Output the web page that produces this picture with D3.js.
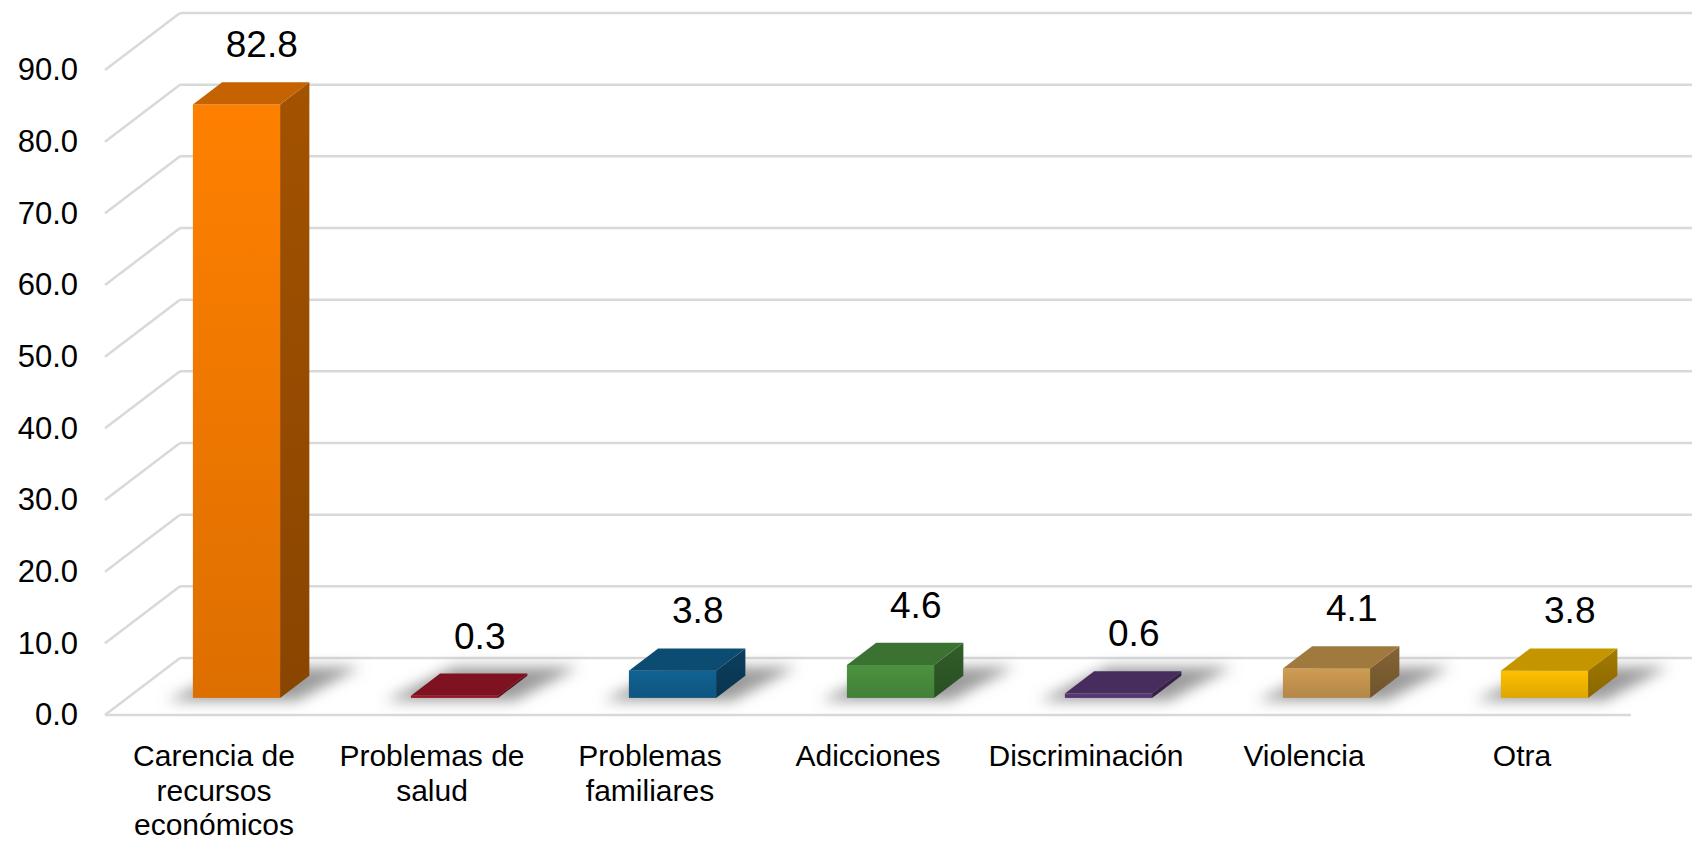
<!DOCTYPE html>
<html>
<head>
<meta charset="utf-8">
<script src="https://cdn.jsdelivr.net/npm/d3@7"></script>
<style>
  html, body { margin: 0; padding: 0; background: #fff; }
  svg { display: block; }
  text { font-family: "Liberation Sans", Arial, sans-serif; fill: #000; }
</style>
</head>
<body>
<svg id="chart" width="1692" height="841"></svg>
<script>
// ---- data ----
const categories = ["Carencia de recursos económicos", "Problemas de salud", "Problemas familiares",
  "Adicciones", "Discriminación", "Violencia", "Otra"];
const categoryLines = [["Carencia de", "recursos", "económicos"], ["Problemas de", "salud"],
  ["Problemas", "familiares"], ["Adicciones"], ["Discriminación"], ["Violencia"], ["Otra"]];
const values = [82.8, 0.3, 3.8, 4.6, 0.6, 4.1, 3.8];
const barColors = ["#FF8000", "#A3172B", "#116293", "#4C9340", "#5B3A78", "#CF9C52", "#FFC000"];
const yTicks = [0, 10, 20, 30, 40, 50, 60, 70, 80, 90];

// ---- layout ----
const W = 1692, H = 841;
const plotLeft = 105, plotRight = 1631;
const depthDX = 75, depthDY = 57;     // full floor depth projection
const zFront = 0.3, zBack = 0.69;      // bar depth placement

const svg = d3.select("#chart");

const x = d3.scaleBand().domain(categories).range([plotLeft, plotRight])
  .paddingInner(0.6).paddingOuter(0.3);
const xOuter = d3.scaleBand().domain(categories).range([plotLeft, plotRight]);
const y = d3.scaleLinear().domain([0, 90]).range([715, 70]);

function P(px, v, z) { return [px + z * depthDX, y(v) - z * depthDY]; }

const defs = svg.append("defs");
defs.append("filter").attr("id", "blur").attr("x", "-50%").attr("y", "-50%")
  .attr("width", "200%").attr("height", "200%")
  .append("feGaussianBlur").attr("stdDeviation", 7);

// gradients per bar
values.forEach((v, i) => {
  const c = d3.color(barColors[i]);
  const gF = defs.append("linearGradient").attr("id", "gf" + i)
    .attr("x1", 0).attr("y1", 0).attr("x2", 0).attr("y2", 1);
  gF.append("stop").attr("offset", "0%").attr("stop-color", c.formatHex());
  gF.append("stop").attr("offset", "100%").attr("stop-color", c.darker(0.4).formatHex());
  const gS = defs.append("linearGradient").attr("id", "gs" + i)
    .attr("x1", 0).attr("y1", 0).attr("x2", 0).attr("y2", 1);
  gS.append("stop").attr("offset", "0%").attr("stop-color", c.darker(1.25).formatHex());
  gS.append("stop").attr("offset", "100%").attr("stop-color", c.darker(1.75).formatHex());
});

// ---- gridlines ----
const grid = svg.append("g").attr("stroke", "#D9D9D9").attr("stroke-width", 2.5).attr("fill", "none");
yTicks.forEach(t => {
  const a = P(plotLeft, t, 0), b = P(plotLeft, t, 1), c = P(plotRight, t, 1);
  grid.append("line").attr("x1", a[0]).attr("y1", a[1]).attr("x2", b[0]).attr("y2", b[1]);
  grid.append("line").attr("x1", b[0]).attr("y1", b[1]).attr("x2", c[0]).attr("y2", c[1]);
  if (t === 0) {
    const d = P(plotRight, t, 0);
    grid.append("line").attr("x1", a[0]).attr("y1", a[1]).attr("x2", d[0]).attr("y2", d[1]);
  }
});

// ---- y axis ----
const yAxis = d3.axisLeft(y).tickValues(yTicks).tickFormat(d3.format(".1f")).tickSize(0).tickPadding(0);
const yg = svg.append("g").attr("transform", "translate(78,0)").call(yAxis);
yg.select(".domain").remove();
yg.selectAll("text").style("font-size", "31px").attr("fill", "#000")
  .style("font-family", "'Liberation Sans', Arial, sans-serif");

// ---- shadows ----
const sh = svg.append("g").attr("filter", "url(#blur)");
values.forEach((v, i) => {
  const x0 = x(categories[i]) - 22, x1 = x(categories[i]) + x.bandwidth() + 40;
  const pts = [P(x0, 0, zFront - 0.05), P(x1 - 20, 0, zFront - 0.05), P(x1, 0, zBack + 0.15), P(x0 + 25, 0, zBack + 0.15)];
  sh.append("polygon").attr("points", pts.map(p => p.join(",")).join(" "))
    .attr("fill", "#8a8a8a").attr("opacity", 0.85);
});

// ---- bars ----
const bars = svg.append("g");
values.forEach((v, i) => {
  const c = d3.color(barColors[i]);
  const xl = x(categories[i]), xr = xl + x.bandwidth();
  const g = bars.append("g");
  // front face
  const fl = P(xl, v, zFront), fr = P(xr, 0, zFront);
  g.append("rect").attr("x", fl[0]).attr("y", fl[1]).attr("width", fr[0] - fl[0])
    .attr("height", Math.max(1.5, fr[1] - fl[1])).attr("fill", `url(#gf${i})`);
  // side face
  const side = [P(xr, v, zFront), P(xr, v, zBack), P(xr, 0, zBack), P(xr, 0, zFront)];
  g.append("polygon").attr("points", side.map(p => p.join(",")).join(" ")).attr("fill", `url(#gs${i})`);
  // top face
  const top = [P(xl, v, zFront), P(xr, v, zFront), P(xr, v, zBack), P(xl, v, zBack)];
  g.append("polygon").attr("points", top.map(p => p.join(",")).join(" "))
    .attr("fill", c.darker(0.72).formatHex());
});

// ---- value labels ----
const fmt = d3.format(".1f");
svg.append("g").selectAll("text").data(values).join("text")
  .attr("x", (d, i) => P(x(categories[i]) + x.bandwidth() / 2, d, zBack)[0] - 4)
  .attr("y", d => P(0, d, zBack)[1] - 25)
  .attr("text-anchor", "middle")
  .style("font-size", "37px")
  .text(d => fmt(d));

// ---- category labels ----
const cl = svg.append("g");
categories.forEach((cat, i) => {
  const t = cl.append("text").attr("text-anchor", "middle").style("font-size", "30px")
    .attr("x", xOuter(cat) + xOuter.bandwidth() / 2).attr("y", 766);
  categoryLines[i].forEach((ln, j) => {
    t.append("tspan").attr("x", xOuter(cat) + xOuter.bandwidth() / 2).attr("dy", j === 0 ? 0 : 34.5).text(ln);
  });
});
</script>
</body>
</html>
